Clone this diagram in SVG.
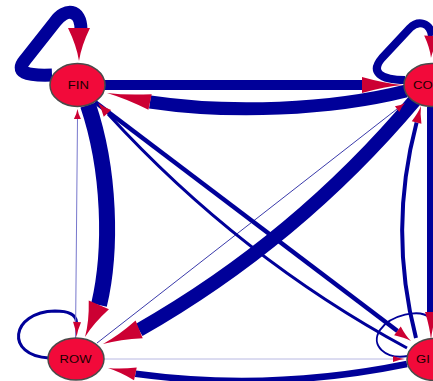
<svg xmlns="http://www.w3.org/2000/svg" xmlns:xlink="http://www.w3.org/1999/xlink" width="433" height="381" viewBox="0 0 433 381">
<style>
.e{fill:none;stroke:#000099;stroke-linecap:butt;stroke-linejoin:round}
.ah{fill:#cc0033}
.n{fill:#f20a3a;stroke:#4a4a4a;stroke-width:1.5}
.t{font-family:"Liberation Sans",Arial,sans-serif;font-size:10.5px;fill:#1a0000}
</style>
<defs>
<path id="ah" d="M0,0 Q-0.45,-0.1 -1,-0.5 L-1,0.5 Q-0.45,0.1 0,0 Z"/>
</defs>
<rect width="433" height="381" fill="#ffffff"/>
<g id="connectors">
<path class="e" style="stroke-width:13" d="M52,75 C25,76 15,72 25,60 L55,22 C65,8 81,8 81,30"/>
<path class="e" style="stroke-width:8" d="M405,80 C380,80 370,72 382,58 L410,28 C418,20 430,22 432,36"/>
<path class="e" style="stroke-width:3" d="M49,358 C5,356 10,312 55,311 C70,311 76,315 76.5,322"/>
<path class="e" style="stroke-width:2" d="M408,356 C385,360 370,345 380,330 C390,315 420,308 430,318"/>
<path class="e" style="stroke-width:10" d="M104,85 L362,85"/>
<path class="e" style="stroke-width:13" d="M406,91 C330,110 230,114 150,102"/>
<path class="e" style="stroke-width:16" d="M88,105 C110,170 112,250 99,305"/>
<path class="e" style="stroke:#7777cc;stroke-width:1" d="M75.5,338 L77.5,118"/>
<path class="e" style="stroke-width:14" d="M415,100 Q297,240 139,330"/>
<path class="e" style="stroke:#3b3bab;stroke-width:1" d="M97,343 L397,109"/>
<path class="e" style="stroke-width:4.5" d="M95,102 L397.5,331"/>
<path class="e" style="stroke-width:3" d="M407,348 Q240,258 108,114"/>
<path class="e" style="stroke-width:8" d="M431,107 L431,312"/>
<path class="e" style="stroke-width:4" d="M416,338 Q388,230 416.6,122.4"/>
<path class="e" style="stroke:#b8b8e2;stroke-width:1" d="M104,359 L393,359"/>
<path class="e" style="stroke-width:6.5" d="M407,364 Q270,392 135.4,373.8"/>
<use xlink:href="#ah" class="ah" transform="translate(79,61) rotate(90) scale(33,22)"/>
<use xlink:href="#ah" class="ah" transform="translate(431,58) rotate(93) scale(22,16)"/>
<use xlink:href="#ah" class="ah" transform="translate(403,85) rotate(0) scale(41,16)"/>
<use xlink:href="#ah" class="ah" transform="translate(107,93) rotate(191.8) scale(44,16)"/>
<use xlink:href="#ah" class="ah" transform="translate(85,337) rotate(113.3) scale(35,22)"/>
<use xlink:href="#ah" class="ah" transform="translate(77.5,109) rotate(-89.5) scale(10,7)"/>
<use xlink:href="#ah" class="ah" transform="translate(103,344) rotate(158) scale(39,19)"/>
<use xlink:href="#ah" class="ah" transform="translate(405,103) rotate(-37.7) scale(10,7)"/>
<use xlink:href="#ah" class="ah" transform="translate(411,341) rotate(37) scale(17,11)"/>
<use xlink:href="#ah" class="ah" transform="translate(98,103) rotate(-132.4) scale(14,10)"/>
<use xlink:href="#ah" class="ah" transform="translate(431,340) rotate(90) scale(28,12)"/>
<use xlink:href="#ah" class="ah" transform="translate(421,106) rotate(-75) scale(17,10)"/>
<use xlink:href="#ah" class="ah" transform="translate(405,359) rotate(0) scale(12,6)"/>
<use xlink:href="#ah" class="ah" transform="translate(108,368) rotate(192) scale(28,13)"/>
<use xlink:href="#ah" class="ah" transform="translate(76.5,337) rotate(92) scale(15,8)"/>
</g>
<g id="node-FIN">
<ellipse class="n" cx="77.5" cy="85" rx="27.5" ry="21.5"/>
<text class="t" text-anchor="middle" transform="translate(78.3,89.3) scale(1.25,1)">FIN</text>
</g>
<g id="node-CO">
<ellipse class="n" cx="431.5" cy="85" rx="27.5" ry="21.5"/>
<text class="t" transform="translate(413,89) scale(1.25,1)">CO</text>
</g>
<g id="node-ROW">
<ellipse class="n" cx="76" cy="359" rx="28" ry="21"/>
<text class="t" text-anchor="middle" transform="translate(75.5,363.3) scale(1.25,1)">ROW</text>
</g>
<g id="node-GI">
<ellipse class="n" cx="434.5" cy="359.5" rx="27.5" ry="21"/>
<text class="t" transform="translate(416,363.3) scale(1.25,1)">GI</text>
</g>
</svg>
